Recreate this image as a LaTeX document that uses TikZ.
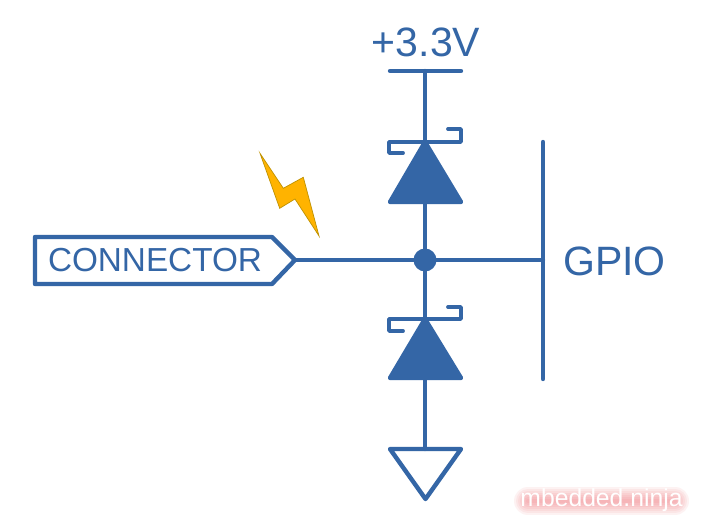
\documentclass[tikz,border=0pt]{standalone}
\usepackage{fontspec}
\setmainfont{Liberation Sans}
\definecolor{wireblue}{RGB}{52,102,166}
\definecolor{boltfill}{RGB}{255,179,0}
\definecolor{boltedge}{RGB}{190,145,0}
\definecolor{glowpink}{RGB}{240,90,100}
\tikzset{
    wire/.style={draw=wireblue, line width=4.4pt, line cap=round, line join=round},
    solid diode/.style={wire, fill=wireblue},
    blue text/.style={text=wireblue, inner sep=0pt},
}
\begin{document}
\begin{tikzpicture}[x=1pt, y=-1pt]
    \useasboundingbox (0, 0) rectangle (709, 532);
    \fill [white] (0, 0) rectangle (709, 532);

    % points on the vertical wire
    \coordinate (rail) at (425, 71);
    \coordinate (top cathode) at (425, 142);
    \coordinate (top anode) at (425, 202);
    \coordinate (bottom cathode) at (425, 319);
    \coordinate (bottom anode) at (425, 378);
    \coordinate (ground) at (425, 449);
    \coordinate (tip) at (295, 260);
    \coordinate (gpio bus) at (543, 260);

    \node [circle, fill=wireblue, minimum size=23pt, inner sep=0pt] (junction) at (425, 260) {};

    % wires
    \draw [wire] (rail) -- (top cathode);
    \draw [wire] (top anode) -- (junction);
    \draw [wire] (junction) -- (bottom cathode);
    \draw [wire] (bottom anode) -- (ground);
    \draw [wire] (tip) -- (junction);
    \draw [wire] (junction) -- (gpio bus);

    % supply
    \draw [wire] (390, 71) -- (461, 71);
    \node [blue text, font=\fontsize{41}{41}\selectfont] (supply) at (426, 42) {+3.3V};

    % top zener
    \draw [solid diode] (top cathode) -- (390, 202) -- (461, 202) -- cycle;
    \draw [wire, line width=3.8pt] (403, 153) -- (389, 153) -- (389, 142) -- (461, 142) -- (461, 129) -- (448, 129);

    % bottom zener
    \draw [solid diode] (bottom cathode) -- (390, 378) -- (461, 378) -- cycle;
    \draw [wire, line width=3.8pt] (403, 331) -- (389, 331) -- (389, 319) -- (461, 319) -- (461, 307) -- (448, 307);

    % ground
    \draw [wire] (ground) -- (390, 449) -- (425.5, 499) -- (461, 449) -- cycle;

    % gpio
    \draw [wire] (543, 142) -- (gpio bus) -- (543, 379);
    \node [blue text, font=\fontsize{41}{41}\selectfont] (gpio) at (614.5, 261) {GPIO};

    % connector
    \draw [wire] (35, 237) -- (272, 237) -- (tip) -- (272, 284) -- (35, 284) -- cycle;
    \node [blue text, font=\fontsize{33.3}{33.3}\selectfont] (connector) at (155, 260) {CONNECTOR};

    % bolt
    \draw [fill=boltfill, draw=boltedge, line width=0.7pt, line join=miter]
        (260, 153.3) -- (283.3, 188.3) -- (303.3, 177.3) -- (319, 236) -- (295, 199) -- (279.7, 208.3) -- cycle;

    % watermark
    \foreach \w in {4, 8, ..., 28}
        \draw [draw=glowpink, opacity=0.08, line width=\w pt, line cap=round] (528, 501) -- (675, 501);
    \node [inner sep=0pt, text=white, font=\fontsize{24.7}{24.7}\selectfont] (watermark) at (601.5, 500) {mbedded.ninja};
\end{tikzpicture}
\end{document}
